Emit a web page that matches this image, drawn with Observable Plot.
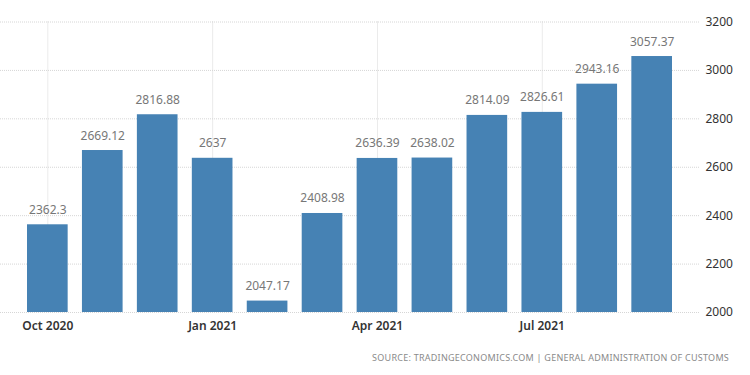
<!DOCTYPE html>
<html><head><meta charset="utf-8">
<script src="https://cdn.jsdelivr.net/npm/d3@7"></script>
<script src="https://cdn.jsdelivr.net/npm/@observablehq/plot@0.6"></script>
<style>
html,body{margin:0;padding:0;background:#fff;}
#wrap{position:relative;width:750px;height:375px;overflow:hidden;}
#caption{position:absolute;right:21px;top:351px;font-family:"Noto Sans",sans-serif;font-size:9px;letter-spacing:0.25px;color:#8a8a8a;white-space:nowrap;}
</style></head><body>
<div id="wrap"><div id="chart"></div><div id="caption">SOURCE: TRADINGECONOMICS.COM | GENERAL ADMINISTRATION OF CUSTOMS</div></div>
<script>
const months = ["2020-10","2020-11","2020-12","2021-01","2021-02","2021-03","2021-04","2021-05","2021-06","2021-07","2021-08","2021-09"];
const values = [2362.3, 2669.12, 2816.88, 2637, 2047.17, 2408.98, 2636.39, 2638.02, 2814.09, 2826.61, 2943.16, 3057.37];
const tickMonths = ["2020-10","2021-01","2021-04","2021-07"];
const tickLabels = ["Oct 2020","Jan 2021","Apr 2021","Jul 2021"];
const yTicks = [2000, 2200, 2400, 2600, 2800, 3000, 3200];

const data = months.map((m, i) => ({month: m, value: values[i]}));

const plot = Plot.plot({
  width: 750,
  height: 340,
  marginLeft: 0,
  marginRight: 50,
  marginTop: 21.5,
  marginBottom: 28,
  style: {fontFamily: "'Noto Sans', sans-serif", fontSize: "12px", background: "#fff", overflow: "visible"},
  x: {type: "band", domain: months, paddingInner: 0.26, paddingOuter: 0, insetLeft: 27, insetRight: 28, round: false},
  y: {domain: [2000, 3200]},
  marks: [
    Plot.ruleY(yTicks, {y: d => d, stroke: "#d6d6d6", strokeDasharray: "1,1"}),
    Plot.ruleX(tickMonths, {x: d => d, stroke: "#d6d6d6", strokeDasharray: "1,1"}),
    Plot.barY(data, {x: "month", y: "value", fill: "#4682b4", clip: true}),
    Plot.text(data, {x: "month", y: "value", text: d => String(d.value), lineAnchor: "bottom", dy: -11, fill: "#777", fontSize: 12}),
    Plot.axisX({ticks: tickMonths, tickFormat: d => tickLabels[tickMonths.indexOf(d)], tickSize: 0, tickPadding: 9, fill: "#333", fontWeight: 600, label: null}),
    Plot.axisY({anchor: "right", ticks: yTicks, tickSize: 0, tickPadding: 5, fill: "#333", label: null, tickFormat: d => String(d)})
  ]
});
document.getElementById("chart").appendChild(plot);
</script>
</body></html>
